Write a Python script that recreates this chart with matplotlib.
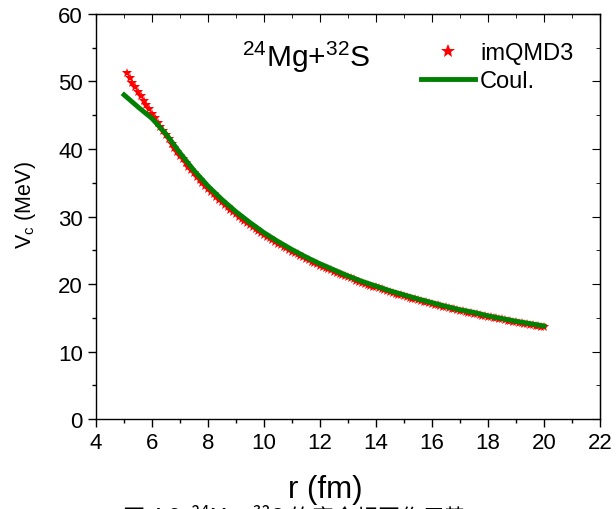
import numpy as np
import matplotlib
matplotlib.use('Agg')
import matplotlib.pyplot as plt

plt.rcParams['font.family'] = ['Liberation Sans', 'DejaVu Sans']
plt.rcParams['mathtext.fontset'] = 'custom'
plt.rcParams['mathtext.rm'] = 'Liberation Sans'
plt.rcParams['mathtext.it'] = 'Liberation Sans:italic'

# imQMD3 potential, r = 5.1 ... 20.0 fm in 0.1 fm steps
r_qmd = np.round(np.arange(51, 201) * 0.1, 1)
v_qmd = [51.2, 50.5, 49.8, 49.1, 48.45, 47.8, 47.15, 46.5, 45.85,
         45.2, 44.55, 43.9, 43.26, 42.63, 42.0, 41.4, 40.8, 40.2, 39.6,
         39.00, 38.45, 37.92, 37.40, 36.89, 36.40, 35.92, 35.45, 35.00, 34.56,
         34.13, 33.70, 33.29, 32.89, 32.50, 32.12, 31.74, 31.38, 31.02, 30.67,
         30.33, 30.00, 29.67, 29.35, 29.04, 28.74, 28.44, 28.14, 27.86, 27.58,
         27.30, 27.03, 26.76, 26.50, 26.25, 26.00, 25.75, 25.51, 25.28, 25.05,
         24.82, 24.59, 24.38, 24.16, 23.95, 23.74, 23.53, 23.33, 23.14, 22.94,
         22.75, 22.56, 22.38, 22.20, 22.02, 21.84, 21.67, 21.50, 21.33, 21.16,
         21.00, 20.84, 20.68, 20.53, 20.37, 20.22, 20.07, 19.93, 19.78, 19.64,
         19.50, 19.36, 19.23, 19.09, 18.96, 18.83, 18.70, 18.57, 18.45, 18.32,
         18.20, 18.08, 17.96, 17.84, 17.73, 17.61, 17.50, 17.39, 17.28, 17.17,
         17.06, 16.96, 16.85, 16.75, 16.65, 16.55, 16.45, 16.35, 16.25, 16.15,
         16.06, 15.96, 15.87, 15.78, 15.69, 15.60, 15.51, 15.42, 15.34, 15.25,
         15.17, 15.08, 15.00, 14.92, 14.84, 14.76, 14.68, 14.60, 14.52, 14.44,
         14.37, 14.29, 14.22, 14.15, 14.07, 14.00, 13.93, 13.86, 13.79, 13.72,
         13.65]

# Coulomb potential
r_coul = [5.0, 5.5, 6.0, 6.5, 7.0, 7.5, 8.0, 8.5, 9.0, 9.5, 10.0, 10.5, 11.0,
          11.5, 12.0, 12.5, 13.0, 13.5, 14.0, 14.5, 15.0, 15.5, 16.0, 16.5,
          17.0, 17.5, 18.0, 18.5, 19.0, 19.5, 20.0]
v_coul = [48.0, 46.2, 44.5, 42.2, 39.4, 36.8, 34.5, 32.5, 30.7, 29.1, 27.6,
          26.3, 25.1, 24.0, 23.0, 22.1, 21.2, 20.4, 19.7, 19.0, 18.4, 17.8,
          17.25, 16.7, 16.2, 15.8, 15.3, 14.9, 14.5, 14.15, 13.8]

fig = plt.figure(figsize=(6.16, 5.1), dpi=100)
ax = fig.add_axes([0.156, 0.176, 0.818, 0.795])

ax.plot(r_qmd, v_qmd, ls='none', marker='*', color='red', ms=7.5, mew=0, label='imQMD3')
ax.plot(r_coul, v_coul, color='#008000', lw=3.5, label='Coul.')

ax.set_xlim(4, 22)
ax.set_ylim(0, 60)
ax.set_xticks(np.arange(4, 23, 2))
ax.set_yticks(np.arange(0, 61, 10))
ax.set_xticks(np.arange(5, 22, 2), minor=True)
ax.set_yticks(np.arange(5, 60, 10), minor=True)
ax.tick_params(which='major', direction='out', length=6, width=1, labelsize=16, colors='black')
ax.tick_params(which='minor', direction='out', length=3, width=1)
for s in ax.spines.values():
    s.set_linewidth(1)

# mirrored ticks on top and right, pointing inward
top = ax.secondary_xaxis('top')
top.set_xticks(np.arange(4, 23, 2))
top.set_xticks(np.arange(5, 22, 2), minor=True)
top.tick_params(which='both', direction='in', labeltop=False)
top.tick_params(which='major', length=6)
top.tick_params(which='minor', length=3)
right = ax.secondary_yaxis('right')
right.set_yticks(np.arange(0, 61, 10))
right.set_yticks(np.arange(5, 60, 10), minor=True)
right.tick_params(which='both', direction='in', labelright=False)
right.tick_params(which='major', length=6)
right.tick_params(which='minor', length=3)

ax.set_xlabel('r (fm)', fontsize=22.5)
ax.xaxis.set_label_coords(0.454, -0.135)
ax.set_ylabel(r'V$_\mathrm{c}$ (MeV)', fontsize=15.5)
ax.yaxis.set_label_coords(-0.116, 0.53)

ax.text(0.417, 0.896, r'$^{24}$Mg+$^{32}$S', transform=ax.transAxes, fontsize=21.5,
        ha='center', va='center')

ax.legend(loc='upper left', bbox_to_anchor=(0.645, 0.93), frameon=False, fontsize=17,
          numpoints=1, markerscale=1.35, handlelength=2.3, handletextpad=0.2,
          labelspacing=0.25, borderaxespad=0, borderpad=0)

fig.text(0.2, 0.010, '图 4.2  ²⁴Mg+³²S 的库仑相互作用势', fontsize=16, va='top', ha='left',
         family=['Noto Sans CJK SC', 'DejaVu Sans'])

fig.savefig('out.png', dpi=100)
